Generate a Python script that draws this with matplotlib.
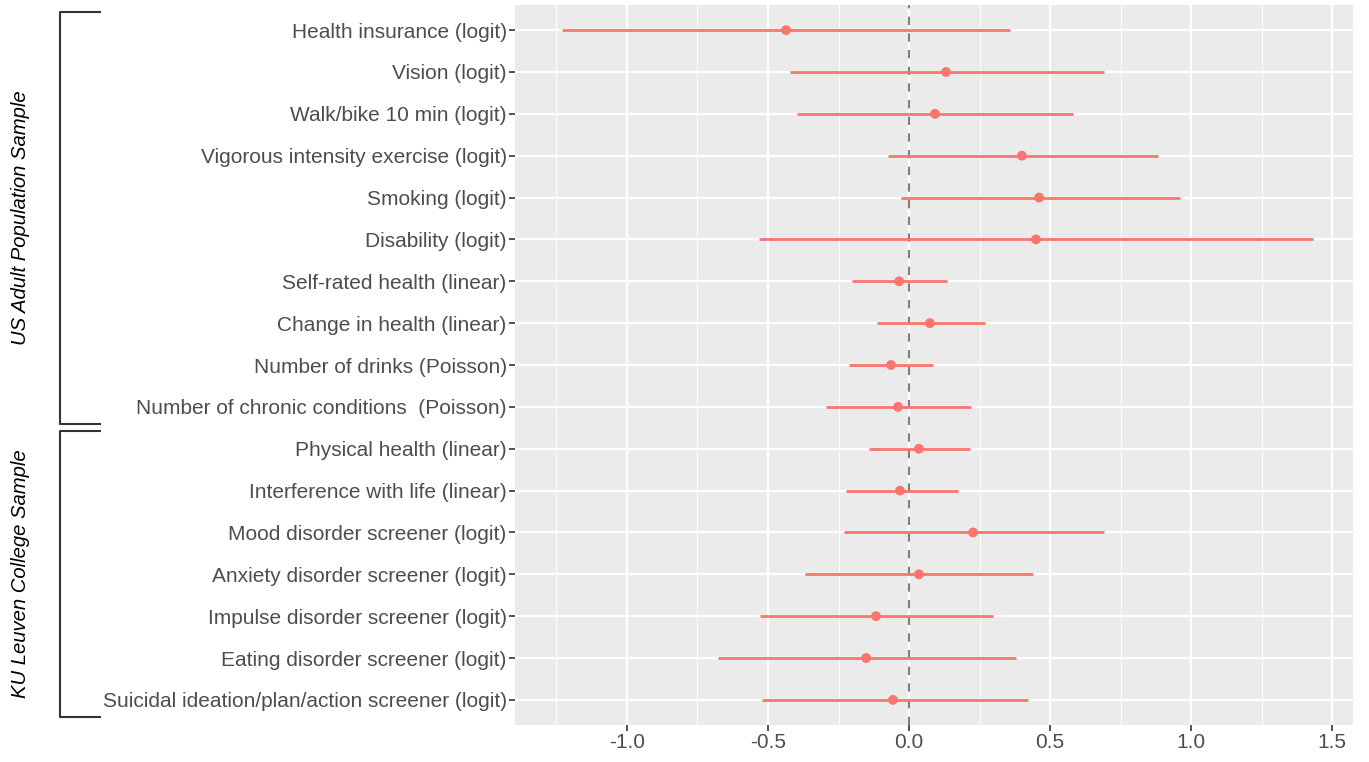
import matplotlib
matplotlib.use("Agg")
import matplotlib.pyplot as plt
import numpy as np

plt.rcParams["font.family"] = ["Liberation Sans", "DejaVu Sans"]

labels = [
    "Health insurance (logit)",
    "Vision (logit)",
    "Walk/bike 10 min (logit)",
    "Vigorous intensity exercise (logit)",
    "Smoking (logit)",
    "Disability (logit)",
    "Self-rated health (linear)",
    "Change in health (linear)",
    "Number of drinks (Poisson)",
    "Number of chronic conditions  (Poisson)",
    "Physical health (linear)",
    "Interference with life (linear)",
    "Mood disorder screener (logit)",
    "Anxiety disorder screener (logit)",
    "Impulse disorder screener (logit)",
    "Eating disorder screener (logit)",
    "Suicidal ideation/plan/action screener (logit)",
]
est = [-0.436, 0.131, 0.092, 0.400, 0.461, 0.450, -0.035, 0.074, -0.064, -0.039,
       0.035, -0.032, 0.227, 0.035, -0.117, -0.152, -0.057]
lo = [-1.230, -0.422, -0.397, -0.074, -0.028, -0.532, -0.202, -0.113, -0.213, -0.294,
      -0.142, -0.223, -0.230, -0.369, -0.528, -0.677, -0.521]
hi = [0.358, 0.691, 0.582, 0.883, 0.961, 1.433, 0.135, 0.270, 0.085, 0.220,
      0.216, 0.174, 0.691, 0.440, 0.298, 0.379, 0.422]
groups = ["US Adult Population Sample", "KU Leuven College Sample"]
group_n = [10, 7]

W, H = 1369, 762
fig = plt.figure(figsize=(W / 100, H / 100), dpi=100)
ax = fig.add_axes([515 / W, 1 - 725 / H, (1353 - 515) / W, (725 - 5) / H])
ax.set_facecolor("#EBEBEB")

n = len(labels)
y = np.arange(n)[::-1]
col = "#F8766D"

ax.set_xlim(-1.397, 1.574)
ax.set_ylim(-0.6, n - 1 + 0.6)
ax.set_xticks([-1.0, -0.5, 0.0, 0.5, 1.0, 1.5])
ax.set_xticklabels(["-1.0", "-0.5", "0.0", "0.5", "1.0", "1.5"])
ax.set_xticks(np.arange(-1.25, 1.6, 0.5), minor=True)
ax.set_yticks(y)
ax.set_yticklabels(labels)
ax.grid(True, which="major", color="white", lw=1.6, zorder=0)
ax.grid(True, which="minor", axis="x", color="white", lw=0.7, zorder=0)
ax.set_axisbelow(True)
for s in ax.spines.values():
    s.set_visible(False)
ax.tick_params(axis="both", which="major", length=4, width=1.2, color="#333333",
               labelsize=15, labelcolor="#4D4D4D", pad=2)
ax.tick_params(axis="both", which="minor", length=0)

ax.axvline(0, color="#7F7F7F", ls=(0, (4, 4)), lw=1.5, zorder=2)
ax.hlines(y, lo, hi, color=col, lw=2, zorder=3)
ax.scatter(est, y, s=50, color=col, zorder=4, edgecolors="none")

# group brackets (figure pixel coords)
brackets = [(12, 424), (431, 717)]
for (y0, y1), name in zip(brackets, groups):
    xs = [100, 60, 60, 100]
    ys = [y0, y0, y1, y1]
    fig.add_artist(plt.Line2D([x / W for x in xs], [1 - v / H for v in ys],
                              color="#333333", lw=1.5))
    fig.text(21 / W, 1 - (y0 + y1) / 2 / H, name, rotation=90, ha="center", va="center",
             fontsize=14.6, style="italic", color="black")

fig.savefig("out.png", dpi=100, facecolor="white")
